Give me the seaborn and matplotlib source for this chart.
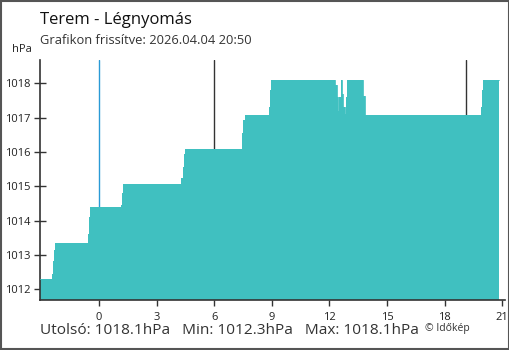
import matplotlib
matplotlib.use("Agg")
import matplotlib.pyplot as plt
import seaborn as sns
import pandas as pd

# Step change points (hours relative to midnight) and pressure values (hPa)
change_hours = [-3.08, -2.48, -2.41, -2.33, -2.30, -0.58, -0.52, -0.47,
                1.14, 1.20, 1.25, 4.29, 4.35, 4.40, 4.45,
                7.42, 7.47, 7.50, 7.59, 8.85, 8.90, 8.95,
                12.31, 12.38, 12.45, 12.52, 12.59, 12.68, 12.73, 12.80, 12.87, 12.93,
                13.75, 13.83, 19.90, 19.95, 20.00]
pressure = [1012.30, 1012.46, 1012.82, 1013.16, 1013.36, 1013.62, 1014.10, 1014.39,
            1014.46, 1014.80, 1015.07, 1015.23, 1015.57, 1015.94, 1016.09,
            1016.25, 1016.56, 1016.92, 1017.07, 1017.30, 1017.80, 1018.10,
            1017.95, 1017.60, 1017.20, 1017.60, 1018.10, 1017.70, 1017.30, 1017.10, 1017.60, 1018.10,
            1017.62, 1017.07, 1017.30, 1017.80, 1018.10]
end_hour = 20.86

x_ticks = [0, 3, 6, 9, 12, 15, 18, 21]
y_ticks = [1012, 1013, 1014, 1015, 1016, 1017, 1018]
marker_lines = [6.01, 19.13]
midnight = 0

title = "Terem - Légnyomás"
subtitle = "Grafikon frissítve: 2026.04.04 20:50"
footer = "Utolsó: 1018.1hPa   Min: 1012.3hPa   Max: 1018.1hPa"
credit = "© Időkép"

sns.set_style("ticks")
plt.rcParams['font.family'] = ['Open Sans', 'DejaVu Sans']

df = pd.DataFrame({"hour": change_hours + [end_hour],
                   "hPa": pressure + [pressure[-1]]})

fig = plt.figure(figsize=(5.1, 3.5), dpi=100)
ax = fig.add_axes([40/510, 1-300/350, 465/510, 240/350])

fill_c = "#40C0C0"
ax.axvline(midnight, color="#2a9ad6", lw=1.0, zorder=1)
for m in marker_lines:
    ax.axvline(m, color="#333333", lw=1.0, zorder=1)
ax.fill_between(df["hour"], 1000, df["hPa"], step="post", color=fill_c, lw=0, zorder=2)
sns.lineplot(data=df, x="hour", y="hPa", drawstyle="steps-post", color=fill_c,
             lw=0.6, ax=ax, zorder=3)

ax.set_xlim(-3.08, 21.15)
ax.set_ylim(1011.69, 1018.68)
ax.set_xticks(x_ticks)
ax.set_yticks(y_ticks)
ax.set_xlabel("")
ax.set_ylabel("")
for s in ["top", "right"]:
    ax.spines[s].set_visible(False)
for s in ["left", "bottom"]:
    ax.spines[s].set_color("#333333")
    ax.spines[s].set_linewidth(1.2)
ax.tick_params(axis="y", direction="inout", length=9, width=1, color="#333333",
               labelsize=8, labelcolor="#222222", pad=2)
ax.tick_params(axis="x", direction="out", length=4, width=1, color="#333333",
               labelsize=8, labelcolor="#222222", pad=5)
ax.xaxis.get_major_ticks()[0].tick1line.set_color("#2a9ad6")

fig.text(40/510, 1-20/350, title, fontsize=12, va="center", ha="left", color="#111111")
fig.text(40/510, 1-41/350, subtitle, fontsize=9.3, va="center", ha="left", color="#333333")
fig.text(12/510, 1-50/350, "hPa", fontsize=8, va="center", ha="left", color="#222222")
fig.text(40/510, 1-330/350, footer, fontsize=11.1, va="center", ha="left", color="#333333")
fig.text(425/510, 1-328/350, credit, fontsize=7.5, va="center", ha="left", color="#333333")

fig.patches.append(plt.Rectangle((0.002, 0.003), 0.996, 0.994, transform=fig.transFigure,
                                 fill=False, edgecolor="#555555", lw=1.5))

fig.savefig("out.png", dpi=100)
